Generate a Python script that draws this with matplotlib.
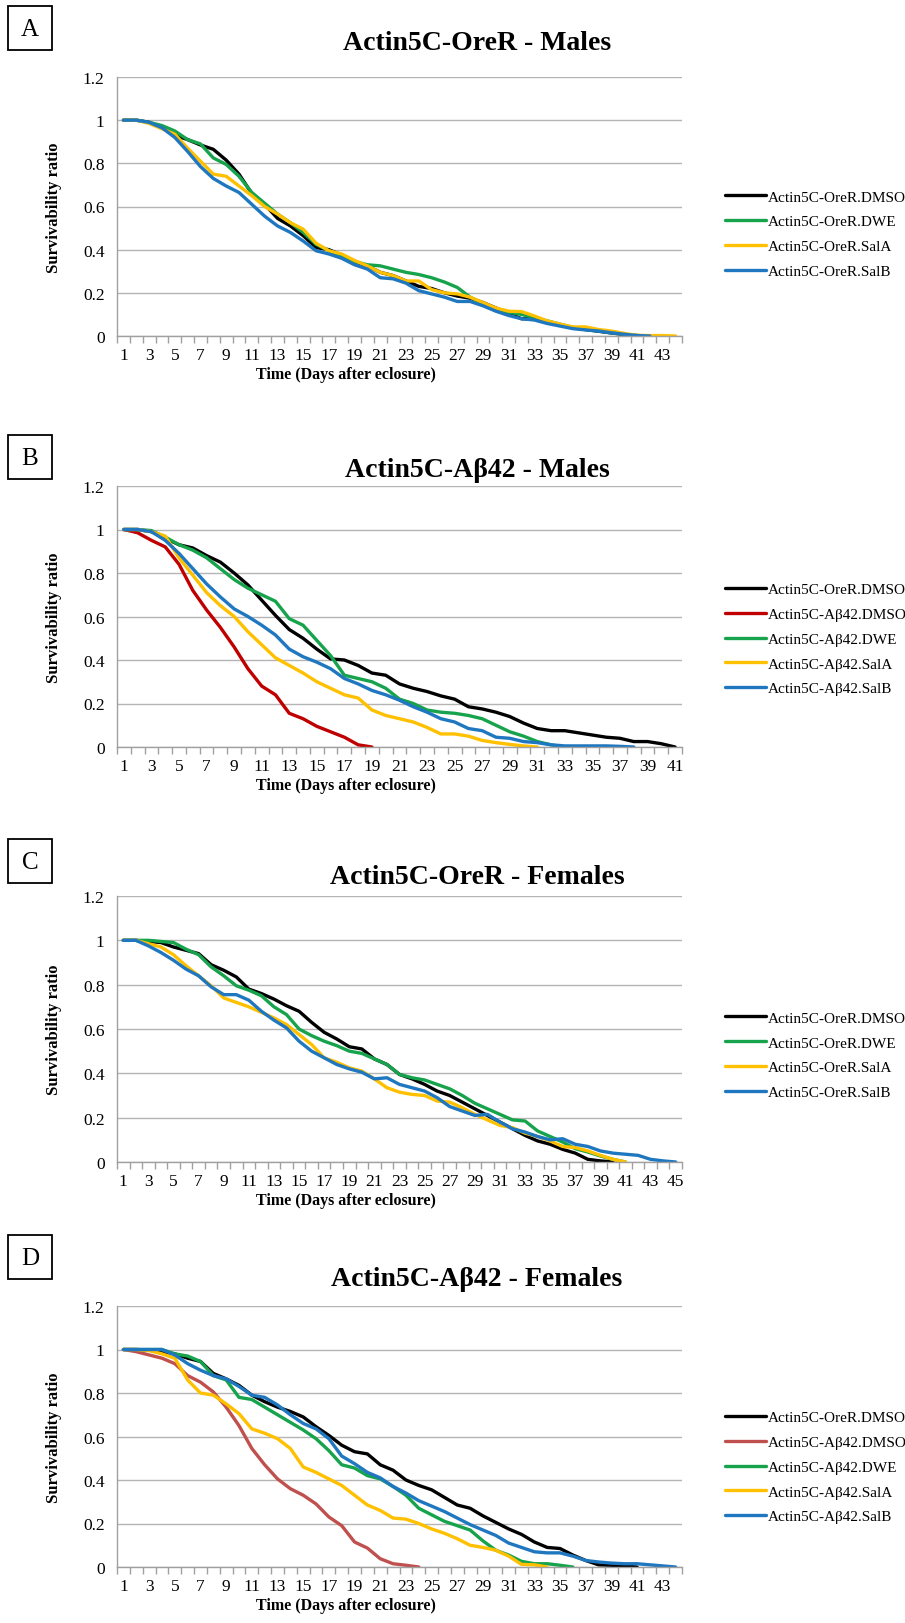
import matplotlib
matplotlib.use("Agg")
import matplotlib.pyplot as plt
from matplotlib.patches import Rectangle
from matplotlib.ticker import FixedLocator, FuncFormatter

plt.rcParams['font.family'] = ['Liberation Serif', 'DejaVu Serif']

# ---- data (survival ratio per day) ----
a_dmso = [1, 1, 0.99, 0.965, 0.93, 0.91, 0.885, 0.865, 0.815, 0.75, 0.66, 0.61, 0.545, 0.51, 0.465,
          0.41, 0.40, 0.375, 0.345, 0.325, 0.295, 0.28, 0.255, 0.23, 0.22, 0.20, 0.185, 0.175, 0.155,
          0.13, 0.105, 0.08, 0.08, 0.065, 0.05, 0.038, 0.03, 0.022, 0.014, 0.007, 0.002, 0]
a_dwe = [1, 1, 0.99, 0.975, 0.95, 0.91, 0.89, 0.825, 0.795, 0.74, 0.665, 0.615, 0.565, 0.525, 0.48,
         0.425, 0.395, 0.37, 0.345, 0.33, 0.325, 0.31, 0.295, 0.285, 0.27, 0.25, 0.225, 0.18, 0.15,
         0.125, 0.11, 0.10, 0.085, 0.07, 0.055, 0.04, 0.03, 0.023, 0.015, 0.008, 0.002, 0]
a_sala = [1, 1, 0.985, 0.96, 0.935, 0.87, 0.81, 0.75, 0.74, 0.695, 0.65, 0.60, 0.565, 0.525, 0.495,
          0.43, 0.395, 0.38, 0.35, 0.325, 0.295, 0.28, 0.255, 0.255, 0.215, 0.20, 0.195, 0.18, 0.155,
          0.13, 0.115, 0.113, 0.093, 0.07, 0.055, 0.042, 0.042, 0.03, 0.023, 0.012, 0.003, 0.002,
          0.002, 0]
a_salb = [1, 1, 0.99, 0.965, 0.92, 0.855, 0.785, 0.73, 0.695, 0.665, 0.61, 0.555, 0.51, 0.48, 0.44,
          0.395, 0.38, 0.36, 0.33, 0.31, 0.27, 0.265, 0.245, 0.21, 0.195, 0.18, 0.16, 0.16, 0.14,
          0.115, 0.095, 0.08, 0.074, 0.058, 0.046, 0.034, 0.028, 0.023, 0.015, 0.008, 0.002, 0]

b_ore_dmso = [1, 1, 0.99, 0.96, 0.93, 0.915, 0.88, 0.85, 0.80, 0.745, 0.675, 0.605, 0.54, 0.50, 0.45,
              0.405, 0.40, 0.375, 0.34, 0.33, 0.29, 0.27, 0.255, 0.235, 0.22, 0.185, 0.175, 0.16, 0.14,
              0.11, 0.085, 0.075, 0.075, 0.065, 0.055, 0.045, 0.04, 0.025, 0.025, 0.015, 0]
b_ab_dmso = [1, 0.985, 0.95, 0.92, 0.84, 0.72, 0.63, 0.55, 0.46, 0.36, 0.28, 0.24, 0.155, 0.13,
             0.095, 0.07, 0.045, 0.01, 0]
b_dwe = [1, 1, 0.995, 0.965, 0.93, 0.905, 0.87, 0.82, 0.77, 0.73, 0.70, 0.67, 0.59, 0.56, 0.49, 0.42,
         0.33, 0.315, 0.30, 0.27, 0.22, 0.20, 0.17, 0.16, 0.155, 0.145, 0.13, 0.10, 0.07, 0.05, 0.025,
         0.01, 0]
b_sala = [1, 1, 0.99, 0.97, 0.87, 0.79, 0.71, 0.65, 0.60, 0.53, 0.47, 0.41, 0.375, 0.34, 0.30, 0.27,
          0.24, 0.225, 0.17, 0.145, 0.13, 0.115, 0.09, 0.06, 0.06, 0.05, 0.03, 0.02, 0.012, 0.005, 0]
b_salb = [1, 1, 0.99, 0.95, 0.89, 0.82, 0.75, 0.69, 0.635, 0.60, 0.56, 0.515, 0.45, 0.415, 0.39,
          0.36, 0.315, 0.29, 0.26, 0.24, 0.215, 0.185, 0.16, 0.13, 0.115, 0.085, 0.075, 0.045, 0.04,
          0.025, 0.02, 0.01, 0.005, 0.005, 0.005, 0.005, 0.003, 0]

c_dmso = [1, 1, 0.995, 0.99, 0.97, 0.955, 0.94, 0.89, 0.865, 0.835, 0.78, 0.76, 0.735, 0.705, 0.68,
          0.63, 0.585, 0.555, 0.52, 0.51, 0.465, 0.44, 0.395, 0.375, 0.35, 0.32, 0.30, 0.27, 0.24,
          0.21, 0.18, 0.15, 0.12, 0.095, 0.08, 0.057, 0.04, 0.012, 0.005, 0]
c_dwe = [1, 1, 1, 0.995, 0.99, 0.96, 0.935, 0.88, 0.84, 0.795, 0.775, 0.75, 0.70, 0.665, 0.60, 0.57,
         0.545, 0.525, 0.50, 0.49, 0.465, 0.44, 0.395, 0.38, 0.37, 0.35, 0.33, 0.30, 0.265, 0.24,
         0.215, 0.19, 0.185, 0.14, 0.115, 0.09, 0.06, 0.045, 0.027, 0.012, 0]
c_sala = [1, 1, 0.985, 0.97, 0.935, 0.885, 0.84, 0.795, 0.74, 0.72, 0.70, 0.675, 0.65, 0.62, 0.575,
          0.53, 0.47, 0.45, 0.425, 0.41, 0.375, 0.335, 0.315, 0.305, 0.30, 0.275, 0.27, 0.245, 0.215,
          0.19, 0.165, 0.155, 0.13, 0.115, 0.095, 0.07, 0.065, 0.05, 0.03, 0.012, 0]
c_salb = [1, 1, 0.975, 0.945, 0.91, 0.87, 0.84, 0.79, 0.755, 0.755, 0.73, 0.68, 0.64, 0.605, 0.545,
          0.50, 0.47, 0.44, 0.42, 0.405, 0.375, 0.38, 0.35, 0.335, 0.32, 0.29, 0.25, 0.23, 0.21, 0.215,
          0.18, 0.15, 0.135, 0.115, 0.10, 0.105, 0.08, 0.07, 0.05, 0.04, 0.035, 0.03, 0.012, 0.005, 0]

d_ore_dmso = [1, 1, 0.997, 0.99, 0.98, 0.96, 0.945, 0.89, 0.865, 0.835, 0.79, 0.76, 0.735, 0.715,
              0.69, 0.645, 0.605, 0.56, 0.53, 0.52, 0.47, 0.445, 0.40, 0.375, 0.355, 0.32, 0.285,
              0.27, 0.235, 0.205, 0.175, 0.15, 0.115, 0.09, 0.085, 0.055, 0.03, 0.01, 0.008, 0.005, 0]
d_ab_dmso = [1, 0.99, 0.975, 0.96, 0.935, 0.88, 0.85, 0.805, 0.735, 0.65, 0.545, 0.47, 0.405, 0.36,
             0.33, 0.29, 0.23, 0.19, 0.115, 0.087, 0.038, 0.015, 0.008, 0]
d_dwe = [1, 1, 1, 1, 0.98, 0.97, 0.945, 0.88, 0.86, 0.78, 0.77, 0.735, 0.70, 0.665, 0.63, 0.59, 0.535,
         0.47, 0.455, 0.42, 0.405, 0.37, 0.33, 0.27, 0.24, 0.21, 0.19, 0.17, 0.12, 0.077, 0.055, 0.026,
         0.015, 0.015, 0.008, 0]
d_sala = [1, 1, 0.995, 0.98, 0.96, 0.86, 0.80, 0.79, 0.75, 0.705, 0.635, 0.615, 0.59, 0.545, 0.46,
          0.435, 0.405, 0.375, 0.33, 0.285, 0.26, 0.225, 0.22, 0.20, 0.175, 0.155, 0.13, 0.10, 0.09,
          0.077, 0.05, 0.012, 0.01, 0]
d_salb = [1, 1, 1, 1, 0.975, 0.935, 0.905, 0.88, 0.865, 0.83, 0.79, 0.78, 0.745, 0.70, 0.66, 0.635,
          0.59, 0.51, 0.475, 0.435, 0.41, 0.37, 0.34, 0.305, 0.28, 0.255, 0.225, 0.195, 0.17, 0.145,
          0.11, 0.09, 0.07, 0.065, 0.065, 0.05, 0.03, 0.023, 0.018, 0.015, 0.015, 0.01, 0.005, 0]

BLACK, GREEN, YELLOW, BLUE = '#000000', '#16A34C', '#FFC000', '#1F77C0'

panels = [
    dict(letter='A', title='Actin5C-OreR - Males', ncat=44,
         series=[(a_dmso, 'Actin5C-OreR.DMSO', BLACK), (a_dwe, 'Actin5C-OreR.DWE', GREEN),
                 (a_sala, 'Actin5C-OreR.SalA', YELLOW), (a_salb, 'Actin5C-OreR.SalB', BLUE)],
         y0=337, y12=78, title_y=43, box_top=7, leg_y=235),
    dict(letter='B', title='Actin5C-A\u03b242 - Males', ncat=41,
         series=[(b_ore_dmso, 'Actin5C-OreR.DMSO', BLACK), (b_ab_dmso, 'Actin5C-A\u03b242.DMSO', '#C00000'),
                 (b_dwe, 'Actin5C-A\u03b242.DWE', GREEN), (b_sala, 'Actin5C-A\u03b242.SalA', YELLOW),
                 (b_salb, 'Actin5C-A\u03b242.SalB', BLUE)],
         y0=748, y12=487, title_y=471, box_top=436, leg_y=640),
    dict(letter='C', title='Actin5C-OreR - Females', ncat=45,
         series=[(c_dmso, 'Actin5C-OreR.DMSO', BLACK), (c_dwe, 'Actin5C-OreR.DWE', GREEN),
                 (c_sala, 'Actin5C-OreR.SalA', YELLOW), (c_salb, 'Actin5C-OreR.SalB', BLUE)],
         y0=1163, y12=897, title_y=878, box_top=840, leg_y=1056),
    dict(letter='D', title='Actin5C-A\u03b242 - Females', ncat=44,
         series=[(d_ore_dmso, 'Actin5C-OreR.DMSO', BLACK), (d_ab_dmso, 'Actin5C-A\u03b242.DMSO', '#C0504D'),
                 (d_dwe, 'Actin5C-A\u03b242.DWE', GREEN), (d_sala, 'Actin5C-A\u03b242.SalA', YELLOW),
                 (d_salb, 'Actin5C-A\u03b242.SalB', BLUE)],
         y0=1568, y12=1307, title_y=1280, box_top=1236, leg_y=1468),
]

W, H = 905, 1624
fig = plt.figure(figsize=(W / 100, H / 100), dpi=100)
left_px, right_px = 117, 682

for p in panels:
    ax = fig.add_axes([left_px / W, 1 - p['y0'] / H, (right_px - left_px) / W, (p['y0'] - p['y12']) / H])
    for vals, label, color in p['series']:
        days = list(range(1, len(vals) + 1))
        ax.plot(days, vals, color=color, lw=2.4, label=label, solid_capstyle='round')

    n = p['ncat']
    ax.set_xlim(0.5, n + 0.5)
    ax.set_ylim(0, 1.2)
    ax.set_yticks([0, 0.2, 0.4, 0.6, 0.8, 1.0, 1.2])
    ax.yaxis.set_major_formatter(FuncFormatter(lambda v, pos: ('%.1f' % v).rstrip('0').rstrip('.')))
    ax.set_xticks(list(range(1, n + 1, 2)))
    ax.xaxis.set_minor_locator(FixedLocator([k + 0.5 for k in range(0, n + 1)]))
    ax.tick_params(axis='x', which='major', length=0, pad=8, labelsize=12.5)
    ax.tick_params(axis='x', which='minor', length=5, width=1, color='#A0A0A0', direction='out')
    ax.tick_params(axis='y', length=0, pad=9, labelsize=12.5)
    ax.grid(axis='y', color='#B4B4B4', lw=1)
    ax.set_axisbelow(True)
    for s in ('top', 'right'):
        ax.spines[s].set_visible(False)
    for s in ('left', 'bottom'):
        ax.spines[s].set_color('#A0A0A0')
        ax.spines[s].set_linewidth(1)

    ax.set_ylabel('Survivability ratio', fontsize=12, fontweight='bold')
    ax.yaxis.set_label_coords(-(left_px - 62) / (right_px - left_px), 0.5)
    hpx = p['y0'] - p['y12']
    ax.text((346 - left_px) / (right_px - left_px), -38 / hpx, 'Time (Days after eclosure)',
            transform=ax.transAxes, ha='center', va='center', fontsize=11.5, fontweight='bold')

    ax.legend(loc='center left', bbox_to_anchor=((725 - left_px) / (right_px - left_px),
                                                  (p['y0'] - p['leg_y']) / hpx),
              frameon=False, borderpad=0, borderaxespad=0, handlelength=2.7, handletextpad=0.1,
              labelspacing=0.72, fontsize=11)

    fig.text(477 / W, 1 - p['title_y'] / H, p['title'], ha='center', va='center',
             fontsize=20, fontweight='bold')
    bt = p['box_top']
    fig.add_artist(Rectangle((8 / W, 1 - (bt + 44) / H), 44 / W, 44 / H, transform=fig.transFigure,
                             fill=False, edgecolor='black', lw=1.3))
    fig.text(30 / W, 1 - (bt + 23) / H, p['letter'], ha='center', va='center', fontsize=18)

fig.savefig('out.png', dpi=100)
